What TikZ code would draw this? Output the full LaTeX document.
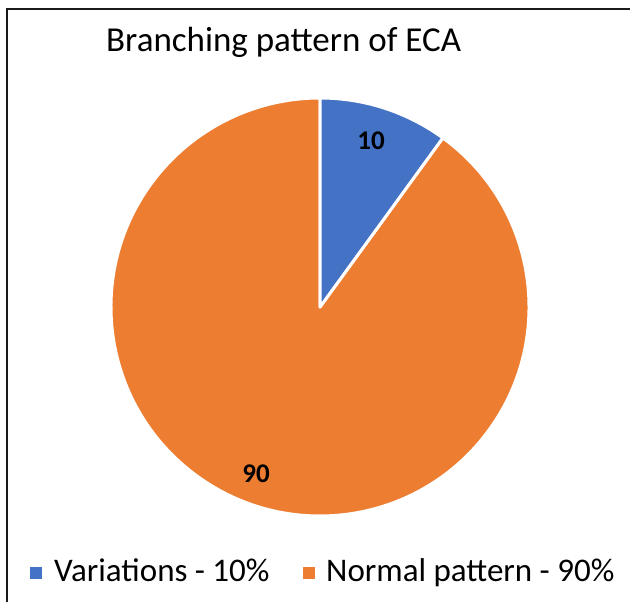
\documentclass[tikz,border=0pt]{standalone}
\usepackage{fontspec}
\setmainfont{Carlito}
\definecolor{sliceblue}{HTML}{4472C4}
\definecolor{sliceorange}{HTML}{ED7D31}
\definecolor{framegray}{HTML}{1A1A1A}
\begin{document}
\begin{tikzpicture}[x=1pt,y=1pt,
  slice/.style={draw=white,line width=3pt,line join=round},
  legendtext/.style={anchor=base west,inner sep=0pt,font=\fontsize{33}{38}\selectfont},
  slicelabel/.style={inner sep=0pt,font=\fontsize{27}{30}\selectfont\bfseries},
  legendbox/.style={minimum size=12pt,inner sep=0pt}]
\useasboundingbox (0,0) rectangle (630,602);
\draw[framegray,line width=2pt] (7,0) -- (7,593) -- (630,593);
\coordinate (c) at (320,295);
\node[anchor=base west,inner sep=0pt,font=\fontsize{35}{40}\selectfont] (title) at (106,550) {Branching pattern of ECA};
\filldraw[slice,fill=sliceorange] (c) -- ++(54:209) arc (54:-270:209) -- cycle;
\filldraw[slice,fill=sliceblue] (c) -- ++(90:209) arc (90:54:209) -- cycle;
\node[slicelabel] (lab10) at (371,461) {10};
\node[slicelabel] (lab90) at (256,128) {90};
\node[legendbox,fill=sliceblue] (sqb) at (36,29) {};
\node[legendtext] (legb) at (54,20) {Variations - 10\%};
\node[legendbox,fill=sliceorange] (sqo) at (308.5,29) {};
\node[legendtext] (lego) at (326,20) {Normal pattern - 90\%};
\end{tikzpicture}
\end{document}
